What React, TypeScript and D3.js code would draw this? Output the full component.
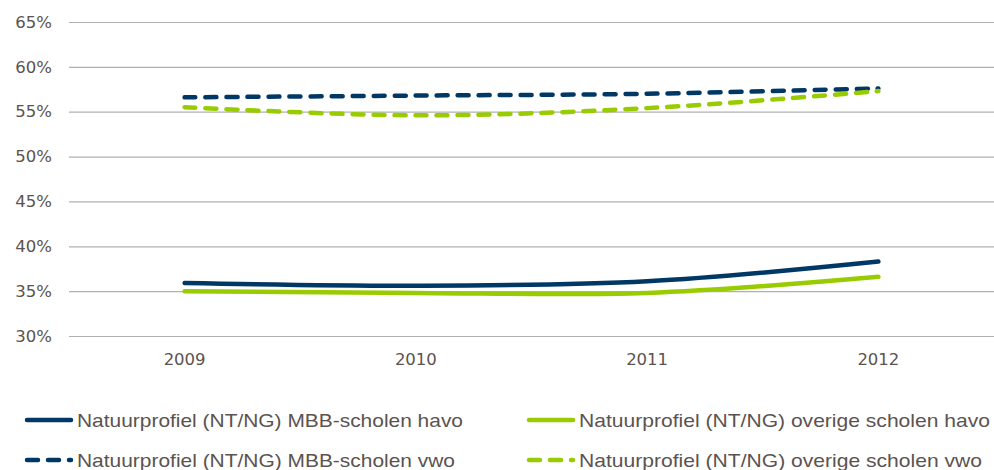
import React, { useEffect, useRef } from "react";
import { select, scaleBand, scaleLinear, line, curveCatmullRom, axisLeft, axisBottom } from "d3";

// categories and values (percent)
const years = ["2009", "2010", "2011", "2012"];
const mbbHavo = [35.9, 35.6, 36.1, 38.3];
const overigeHavo = [35.0, 34.8, 34.8, 36.6];
const mbbVwo = [56.6, 56.8, 57.0, 57.6];
const overigeVwo = [55.5, 54.6, 55.4, 57.3];
const yTicks = [30, 35, 40, 45, 50, 55, 60, 65];

const NAVY = "#003865";
const GREEN = "#99cc00";
const TEXT = "#5b5350";

const series = [
  { name: "Natuurprofiel (NT/NG) MBB-scholen havo", values: mbbHavo, color: NAVY, dashed: false },
  { name: "Natuurprofiel (NT/NG) overige scholen havo", values: overigeHavo, color: GREEN, dashed: false },
  { name: "Natuurprofiel (NT/NG) MBB-scholen vwo", values: mbbVwo, color: NAVY, dashed: true },
  { name: "Natuurprofiel (NT/NG) overige scholen vwo", values: overigeVwo, color: GREEN, dashed: true },
];

const W = 994;
const H = 470;

function LineChart() {
  const svgRef = useRef<SVGSVGElement>(null);

  useEffect(() => {
    const svg = select(svgRef.current);
    svg.selectAll("*").remove();

    const xScale = scaleBand().domain(years).range([69, 994]);
    const yScale = scaleLinear().domain([30, 65]).range([336, 22]);

    // y grid + labels
    const yAxis = axisLeft(yScale)
      .tickValues(yTicks)
      .tickSize(-(994 - 69))
      .tickPadding(17)
      .tickFormat(d => `${d}%`);
    const gy = svg.append("g").attr("transform", "translate(69,0)").call(yAxis);
    gy.select(".domain").remove();
    gy.selectAll(".tick line").attr("stroke", "#b0b0b0").attr("stroke-width", 1.2);
    gy.selectAll(".tick text")
      .attr("fill", TEXT)
      .style("font-family", "'DejaVu Sans', Verdana, sans-serif")
      .style("font-size", "16.5px");

    // x labels
    const xAxis = axisBottom(xScale).tickSize(0).tickPadding(17);
    const gx = svg.append("g").attr("transform", "translate(0,336)").call(xAxis);
    gx.select(".domain").remove();
    gx.selectAll(".tick text")
      .attr("fill", TEXT)
      .style("font-family", "'DejaVu Sans', Verdana, sans-serif")
      .style("font-size", "16.5px");

    const lineGen = line<number>()
      .x((d, i) => xScale(years[i])! + xScale.bandwidth() / 2)
      .y(d => yScale(d))
      .curve(curveCatmullRom);

    svg
      .selectAll(".series")
      .data(series)
      .join("path")
      .attr("class", "series")
      .attr("fill", "none")
      .attr("stroke", s => s.color)
      .attr("stroke-width", 4.5)
      .attr("stroke-linecap", "round")
      .attr("stroke-dasharray", s => (s.dashed ? "11,10" : null))
      .attr("d", s => lineGen(s.values));

    // legend
    const legend = svg
      .selectAll(".legend")
      .data(series)
      .join("g")
      .attr("class", "legend")
      .attr("transform", (s, i) => `translate(${i % 2 === 0 ? 27 : 529},${i < 2 ? 420 : 460})`);
    legend
      .append("line")
      .attr("x1", 0)
      .attr("x2", 44)
      .attr("stroke", s => s.color)
      .attr("stroke-width", 4.5)
      .attr("stroke-linecap", "round")
      .attr("stroke-dasharray", s => (s.dashed ? "11,10" : null));
    legend
      .append("text")
      .attr("x", 50)
      .attr("dy", "0.35em")
      .attr("fill", TEXT)
      .attr("textLength", (s, i) => (i % 2 === 0 ? (i < 2 ? 386 : 378) : (i < 2 ? 411 : 403)))
      .attr("lengthAdjust", "spacingAndGlyphs")
      .style("font-family", "'Liberation Sans', Arial, sans-serif")
      .style("font-size", "19px")
      .text(s => s.name);
  }, []);

  return <svg ref={svgRef} width={W} height={H} style={{ position: "absolute", left: 0, top: 0 }} />;
}

export default function App() {
  return <LineChart />;
}
